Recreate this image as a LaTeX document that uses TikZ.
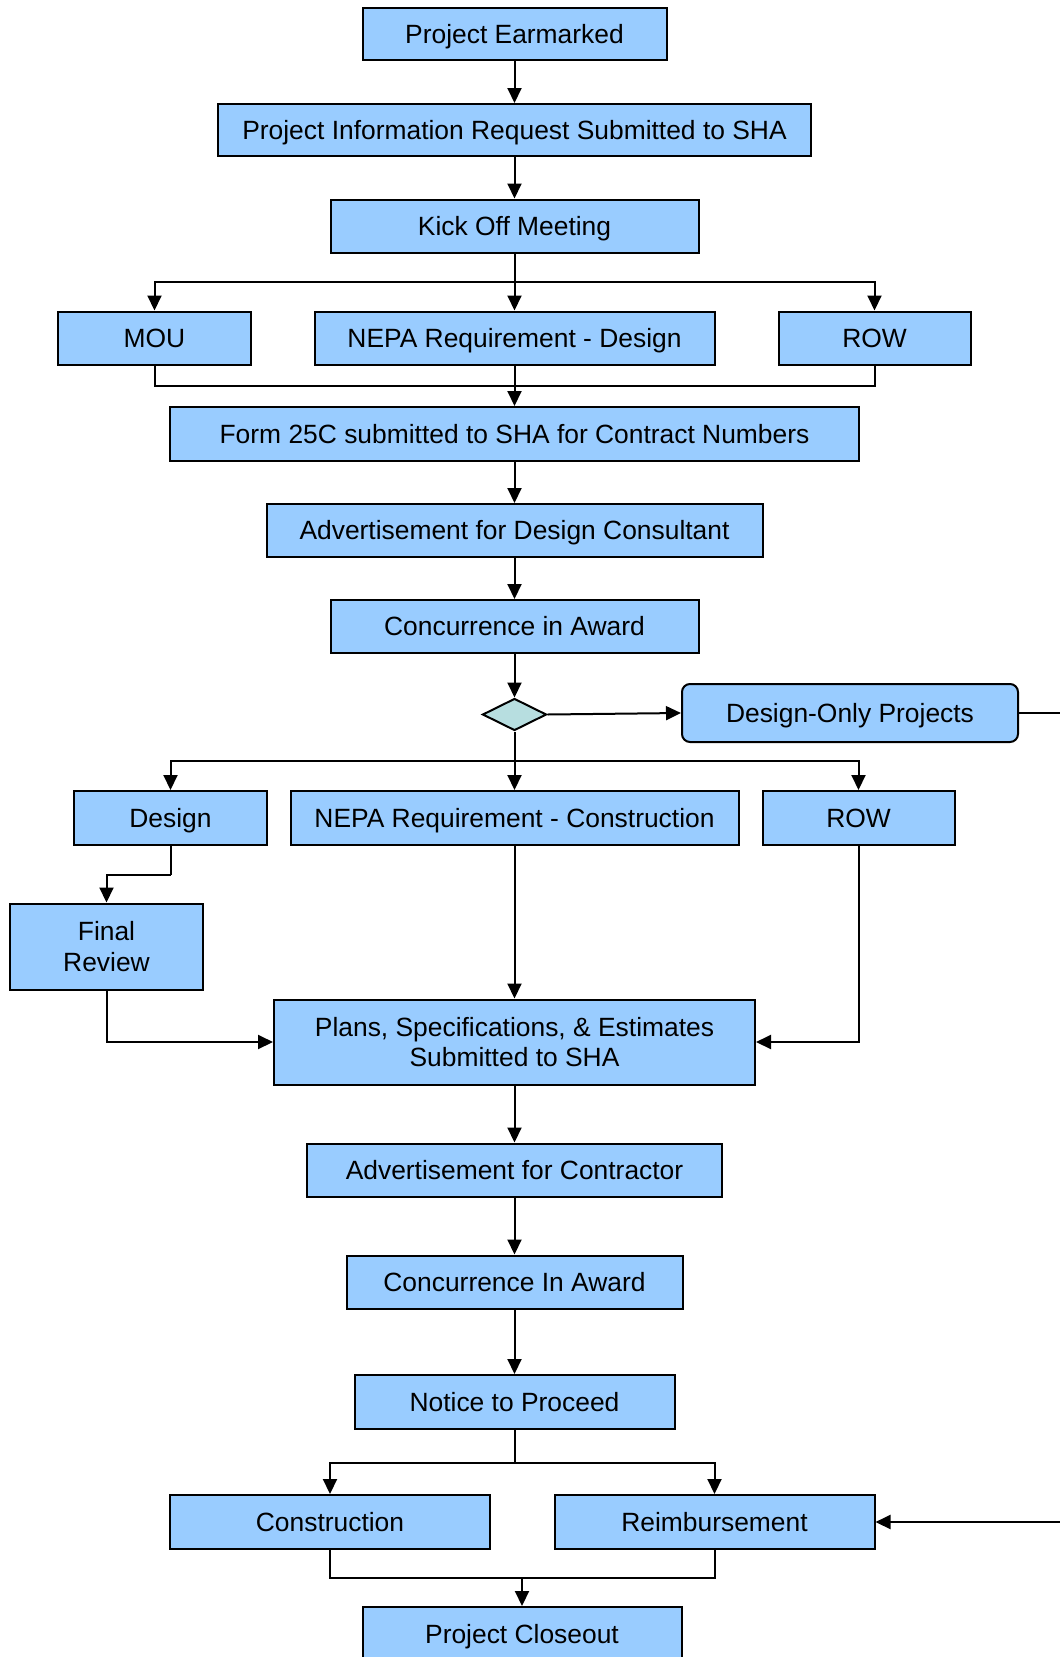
\documentclass[tikz,border=0pt]{standalone}
\usepackage{fontspec}
\setmainfont{Liberation Sans}
\usetikzlibrary{shapes.geometric,arrows.meta,positioning}
\definecolor{boxblue}{RGB}{153,204,255}
\definecolor{choiceteal}{RGB}{183,222,224}

\begin{document}
\begin{tikzpicture}[x=1pt,y=-1pt]

        % styles
        \tikzstyle{twoline} = [rectangle, minimum height=53pt, inner sep=0pt, align=center, draw=black, line width=2pt, fill=boxblue, font=\fontsize{26.4}{30.7}\selectfont]
        \tikzstyle{task} = [twoline, text height=18.9pt, text depth=0.8pt]
        \tikzstyle{roundtask} = [task, rounded corners=8pt, minimum height=58pt]
        \tikzstyle{choice} = [diamond, minimum width=64pt, minimum height=32pt, inner sep=0pt, draw=black, line width=2pt, fill=choiceteal]
        \tikzstyle{arrow} = [line width=2pt, -{Triangle[length=15pt,width=14pt]}]
        \tikzstyle{line} = [line width=2pt]

        \useasboundingbox (0,0) rectangle (1060,1657);

        % nodes
        \node (earmark) [task, minimum width=304pt, minimum height=52pt] at (514.5,34) {Project Earmarked};
        \node (pir) [task, minimum width=593pt, minimum height=52pt] at (514.5,130) {Project Information Request Submitted to SHA};
        \node (kickoff) [task, minimum width=368pt] at (514.5,226) {Kick Off Meeting};
        \node (mou) [task, minimum width=193pt] at (154.5,338) {MOU};
        \node (nepadesign) [task, minimum width=400pt] at (514.5,338) {NEPA Requirement - Design};
        \node (rowdesign) [task, minimum width=192pt] at (874.5,338) {ROW};
        \node (form) [task, minimum width=689pt, minimum height=54pt] at (514.5,434) {Form 25C submitted to SHA for Contract Numbers};
        \node (advdesign) [task, minimum width=496pt] at (514.5,530.5) {Advertisement for Design Consultant};
        \node (concur) [task, minimum width=368pt] at (514.5,626.5) {Concurrence in Award};
        \node (split) [choice] at (514.5,714.5) {};
        \node (designonly) [roundtask, minimum width=336pt] at (850,713) {Design-Only Projects};
        \node (design) [task, minimum width=193pt, minimum height=54pt] at (170.5,818) {Design};
        \node (nepaconstr) [task, minimum width=448pt, minimum height=54pt] at (514.5,818) {NEPA Requirement - Construction};
        \node (rowconstr) [task, minimum width=192pt, minimum height=54pt] at (858.5,818) {ROW};
        \node (final) [twoline, minimum width=193pt, minimum height=86pt] at (106.5,946.5) {Final\\Review};
        \node (pse) [twoline, minimum width=481pt, minimum height=85pt] at (514.5,1042) {Plans, Specifications, \& Estimates\\Submitted to SHA};
        \node (advcontr) [task, minimum width=415pt] at (514.5,1170) {Advertisement for Contractor};
        \node (concurtwo) [task, minimum width=336pt] at (514.5,1282) {Concurrence In Award};
        \node (ntp) [task, minimum width=320pt, minimum height=54pt] at (514.5,1402) {Notice to Proceed};
        \node (constr) [task, minimum width=320pt, minimum height=54pt] at (330,1522) {Construction};
        \node (reimb) [task, minimum width=320pt, minimum height=54pt] at (714.5,1522) {Reimbursement};
        \node (closeout) [task, minimum width=319pt, minimum height=54pt] at (522,1634) {Project Closeout};

        % branch points
        \coordinate (fork1) at (514.5,282);
        \coordinate (join1) at (514.5,386);
        \coordinate (fork2) at (514.5,760.5);
        \coordinate (bend) at (170.5,874.5);
        \coordinate (fork3) at (514.5,1462.5);
        \coordinate (join3) at (522,1578);
        \coordinate (farright) at (1100,713);

        % connections
        \draw [arrow] (earmark) -- (pir);
        \draw [arrow] (pir) -- (kickoff);
        \draw [line] (kickoff) -- (fork1);
        \draw [arrow] (fork1) -| (mou);
        \draw [arrow] (fork1) -- (nepadesign);
        \draw [arrow] (fork1) -| (rowdesign);
        \draw [line] (mou) |- (join1);
        \draw [line] (rowdesign) |- (join1);
        \draw [arrow] (nepadesign) -- (form);
        \draw [arrow] (form) -- (advdesign);
        \draw [arrow] (advdesign) -- (concur);
        \draw [arrow] (concur) -- (split);
        \draw [arrow] (split.east) -- (designonly.west);
        \draw [arrow] (designonly) -- (farright) |- (reimb);
        \draw [line] (split) -- (fork2);
        \draw [arrow] (fork2) -| (design);
        \draw [arrow] (fork2) -- (nepaconstr);
        \draw [arrow] (fork2) -| (rowconstr);
        \draw [line] (design) -- (bend);
        \draw [arrow] (bend) -| (final);
        \draw [arrow] (final) |- (pse);
        \draw [arrow] (nepaconstr) -- (pse);
        \draw [arrow] (rowconstr) |- (pse);
        \draw [arrow] (pse) -- (advcontr);
        \draw [arrow] (advcontr) -- (concurtwo);
        \draw [arrow] (concurtwo) -- (ntp);
        \draw [line] (ntp) -- (fork3);
        \draw [arrow] (fork3) -| (constr);
        \draw [arrow] (fork3) -| (reimb);
        \draw [line] (constr) |- (join3);
        \draw [line] (reimb) |- (join3);
        \draw [arrow] (join3) -- (closeout);

\end{tikzpicture}
\end{document}
